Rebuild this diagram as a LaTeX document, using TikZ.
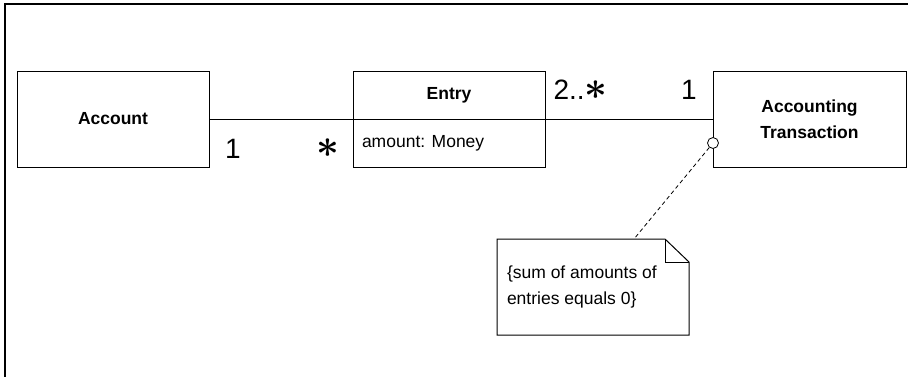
\documentclass[tikz,border=0pt]{standalone}
\usepackage{fontspec}
\usepackage{graphicx}
\setmainfont{Liberation Sans}
\newcommand{\bigstarglyph}{{\fontsize{17.28}{20}\selectfont\boldmath\scalebox{2.3}{$\ast$}}}
\begin{document}
\begin{tikzpicture}[x=1pt,y=-1pt,
  cls/.style={draw, line width=1pt, minimum width=192pt, minimum height=96pt, inner sep=0pt, outer sep=0pt, font=\fontsize{17.5}{26}\selectfont\bfseries, align=center},
  plain/.style={inner sep=0pt, outer sep=0pt, font=\fontsize{17.5}{26}\selectfont},
  mult/.style={inner sep=0pt, outer sep=0pt, font=\fontsize{28}{30}\selectfont},
  star/.style={inner sep=0pt, outer sep=0pt},
  assoc/.style={line width=1pt},
  anchorline/.style={line width=0.8pt, dash pattern=on 4pt off 3pt}]
\useasboundingbox (0,0) rectangle (908,376);
\fill[white] (0,0) rectangle (908,376);
% frame
\draw[line width=2.5pt] (5,377) -- (5,4) -- (909,4);
% classes
\node[cls] (account) at (113,119) {Account};
\node[cls] (entry) at (449,119) {};
\draw[line width=1pt] (entry.west) -- (entry.east);
\node[plain, font=\fontsize{17.5}{26}\selectfont\bfseries] (entryname) at (449,95) {Entry};
\node[plain, anchor=west] (attr) at (362,143) {amount: Money};
\node[cls, minimum width=193pt] (trans) at (809.5,119) {Accounting\\Transaction};
% associations
\draw[assoc] (account.east) -- (entry.west);
\draw[assoc] (entry.east) -- (trans.west);
% multiplicities
\node[mult] (m1) at (233,148.5) {1};
\node[star] (m2) at (328,148) {\bigstarglyph};
\node[mult, anchor=base west] (m3) at (553.5,99.5) {2..\bigstarglyph};
\node[mult] (m4) at (689,89.5) {1};
% note
\node[minimum width=192pt, minimum height=96pt, inner sep=0pt, outer sep=0pt] (note) at (593,287) {};
\draw[line width=1pt, fill=white] (note.north west) -- ([xshift=-24pt]note.north east) -- ([yshift=-23pt]note.north east) -- (note.south east) -- (note.south west) -- cycle;
\draw[line width=1pt] ([xshift=-24pt]note.north east) |- ([yshift=-23pt]note.north east);
\node[plain, anchor=west, align=left] (notetext) at (507,287) {\{sum of amounts of\\entries equals 0\}};
% anchor line
\node[circle, draw, line width=0.8pt, fill=white, minimum size=11pt, inner sep=0pt] (ring) at (713,143) {};
\draw[anchorline] (ring) -- ([xshift=41pt]note.north);
\end{tikzpicture}
\end{document}
